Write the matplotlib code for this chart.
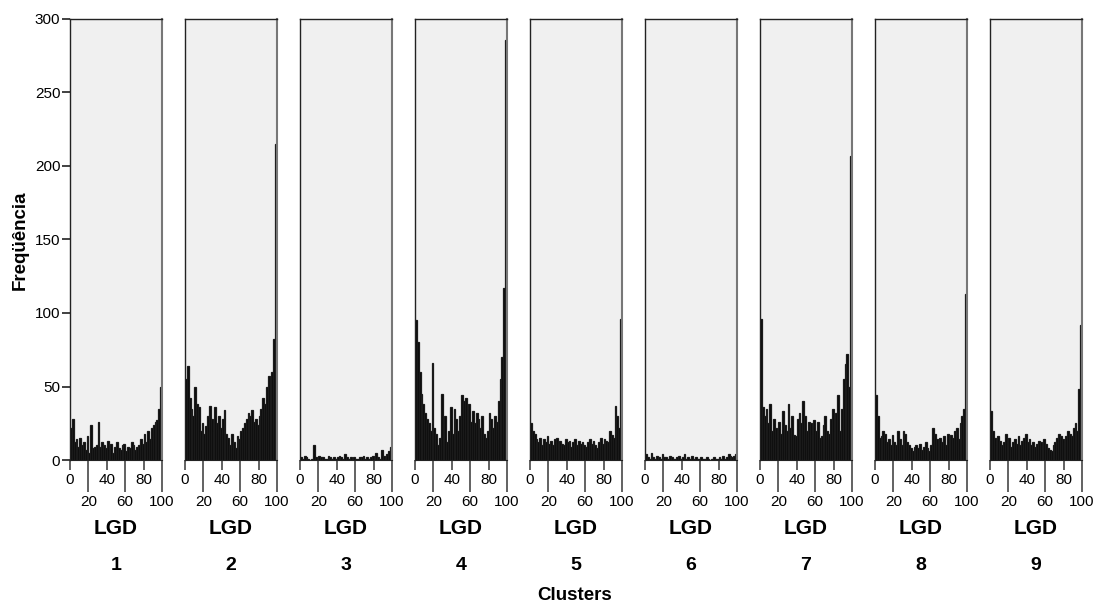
import numpy as np
import matplotlib
matplotlib.use("Agg")
import matplotlib.pyplot as plt

plt.rcParams['font.family'] = ['Liberation Sans', 'DejaVu Sans']

clusters = ["1", "2", "3", "4", "5", "6", "7", "8", "9"]
x_label = "LGD"
y_label = "Freqüência"
group_label = "Clusters"
y_ticks = [0, 50, 100, 150, 200, 250, 300]
x_major = [0, 40, 80]
x_minor = [20, 60, 100]

c1 = [22, 28, 12, 14, 9, 15, 10, 12, 7, 16, 5, 24, 8, 9, 10, 26, 9, 12, 10, 8,
      13, 7, 11, 5, 9, 12, 8, 7, 10, 11, 6, 9, 8, 12, 10, 7, 9, 10, 14, 11,
      18, 12, 20, 14, 22, 24, 26, 27, 35, 50]
c2 = [55, 64, 42, 35, 30, 50, 38, 36, 20, 25, 18, 23, 30, 37, 28, 20, 36, 25, 30, 22,
      28, 34, 18, 15, 10, 18, 12, 8, 16, 14, 20, 22, 25, 28, 32, 30, 34, 26, 28, 24,
      30, 35, 42, 38, 50, 57, 55, 60, 82, 215]
c3 = [2, 1, 3, 2, 1, 0, 1, 10, 2, 1, 3, 2, 2, 1, 1, 3, 2, 1, 2, 1,
      2, 3, 2, 1, 4, 2, 1, 2, 1, 2, 1, 1, 2, 2, 3, 1, 2, 1, 2, 3,
      2, 5, 2, 1, 7, 3, 2, 4, 6, 9]
c4 = [95, 80, 60, 45, 38, 32, 28, 25, 20, 66, 22, 18, 10, 15, 45, 25, 30, 12, 20, 36,
      18, 35, 28, 20, 30, 44, 40, 42, 30, 38, 26, 33, 25, 32, 28, 22, 30, 18, 15, 20,
      32, 28, 22, 30, 26, 40, 55, 70, 117, 286]
c5 = [25, 20, 18, 14, 12, 15, 10, 14, 12, 16, 11, 13, 10, 14, 15, 12, 13, 11, 10, 14,
      12, 13, 9, 12, 14, 10, 13, 11, 12, 10, 9, 12, 14, 11, 13, 10, 8, 12, 15, 11,
      14, 13, 12, 20, 17, 15, 37, 30, 22, 96]
c6 = [4, 2, 1, 5, 2, 1, 3, 2, 1, 4, 2, 2, 1, 3, 2, 1, 1, 2, 3, 1,
      2, 4, 1, 2, 1, 3, 1, 2, 1, 1, 2, 1, 1, 2, 1, 0, 1, 2, 1, 1,
      2, 1, 3, 1, 2, 4, 3, 2, 3, 4]
c7 = [96, 36, 30, 35, 25, 38, 20, 28, 22, 15, 26, 18, 33, 24, 20, 38, 22, 30, 17, 16,
      28, 32, 25, 40, 30, 20, 26, 25, 18, 27, 20, 26, 15, 16, 24, 30, 20, 18, 28, 35,
      20, 32, 44, 20, 35, 55, 65, 72, 50, 207]
c8 = [44, 30, 15, 16, 20, 18, 12, 14, 10, 17, 12, 10, 20, 14, 10, 20, 18, 12, 10, 8,
      6, 9, 10, 8, 11, 7, 9, 12, 8, 6, 10, 22, 18, 14, 10, 15, 12, 16, 10, 18,
      12, 17, 15, 20, 22, 14, 25, 30, 35, 113]
c9 = [33, 20, 15, 10, 16, 13, 10, 12, 18, 11, 15, 9, 12, 14, 11, 16, 10, 13, 15, 18,
      12, 14, 10, 12, 9, 11, 13, 12, 10, 14, 11, 8, 7, 6, 10, 12, 15, 18, 16, 14,
      12, 16, 20, 18, 16, 22, 25, 20, 48, 92]
series = [c1, c2, c3, c4, c5, c6, c7, c8, c9]

W, H = 1094, 607
fig = plt.figure(figsize=(W / 100, H / 100), dpi=100)

top_px, bot_px = 19, 460
pw = 92
step = 115
left0 = 70

for i, (name, vals) in enumerate(zip(clusters, series)):
    x0 = left0 + step * i
    ax = fig.add_axes([x0 / W, (H - bot_px) / H, pw / W, (bot_px - top_px) / H])
    ax.set_facecolor('#f0f0f0')
    n = len(vals)
    edges = np.linspace(0, 100, n + 1)
    ax.bar(edges[:-1], vals, width=100 / n, align='edge', color='#0a0a0a',
           edgecolor='#1a1a1a', linewidth=0.9)
    ax.set_xlim(0, 100)
    ax.set_ylim(0, 300)
    for s in ['left', 'top']:
        ax.spines[s].set_color('#222222')
        ax.spines[s].set_linewidth(1.0)
    ax.spines['right'].set_color('#777777')
    ax.spines['right'].set_linewidth(1.5)
    ax.spines['bottom'].set_color('#222222')
    ax.set_xticks(x_major)
    ax.set_xticks(x_minor, minor=True)
    ax.set_xticklabels([str(v) for v in x_major], fontsize=11)
    ax.set_xticklabels([str(v) for v in x_minor], minor=True, fontsize=11)
    ax.tick_params(axis='x', which='major', length=7, width=1.3, color='#555555', pad=2)
    ax.tick_params(axis='x', which='minor', length=23, width=1.3, color='#555555', pad=2)
    if i == 0:
        ax.set_yticks(y_ticks)
        ax.set_yticklabels([str(v) for v in y_ticks], fontsize=11)
        ax.tick_params(axis='y', length=6, width=1.3, color='#333333', pad=1)
    else:
        ax.set_yticks([])
    cx = (x0 + pw / 2) / W
    fig.text(cx, 1 - 528 / H, x_label, ha='center', va='center',
             fontsize=15, fontweight='bold')
    fig.text(cx, 1 - 565 / H, name, ha='center', va='center',
             fontsize=14, fontweight='bold')

fig.text(20 / W, 1 - 240 / H, y_label, rotation=90, ha='center', va='center',
         fontsize=13.5, fontweight='bold')
fig.text(575 / W, 1 - 596 / H, group_label, ha='center', va='center',
         fontsize=13.5, fontweight='bold')

fig.savefig('out.png', dpi=100)
